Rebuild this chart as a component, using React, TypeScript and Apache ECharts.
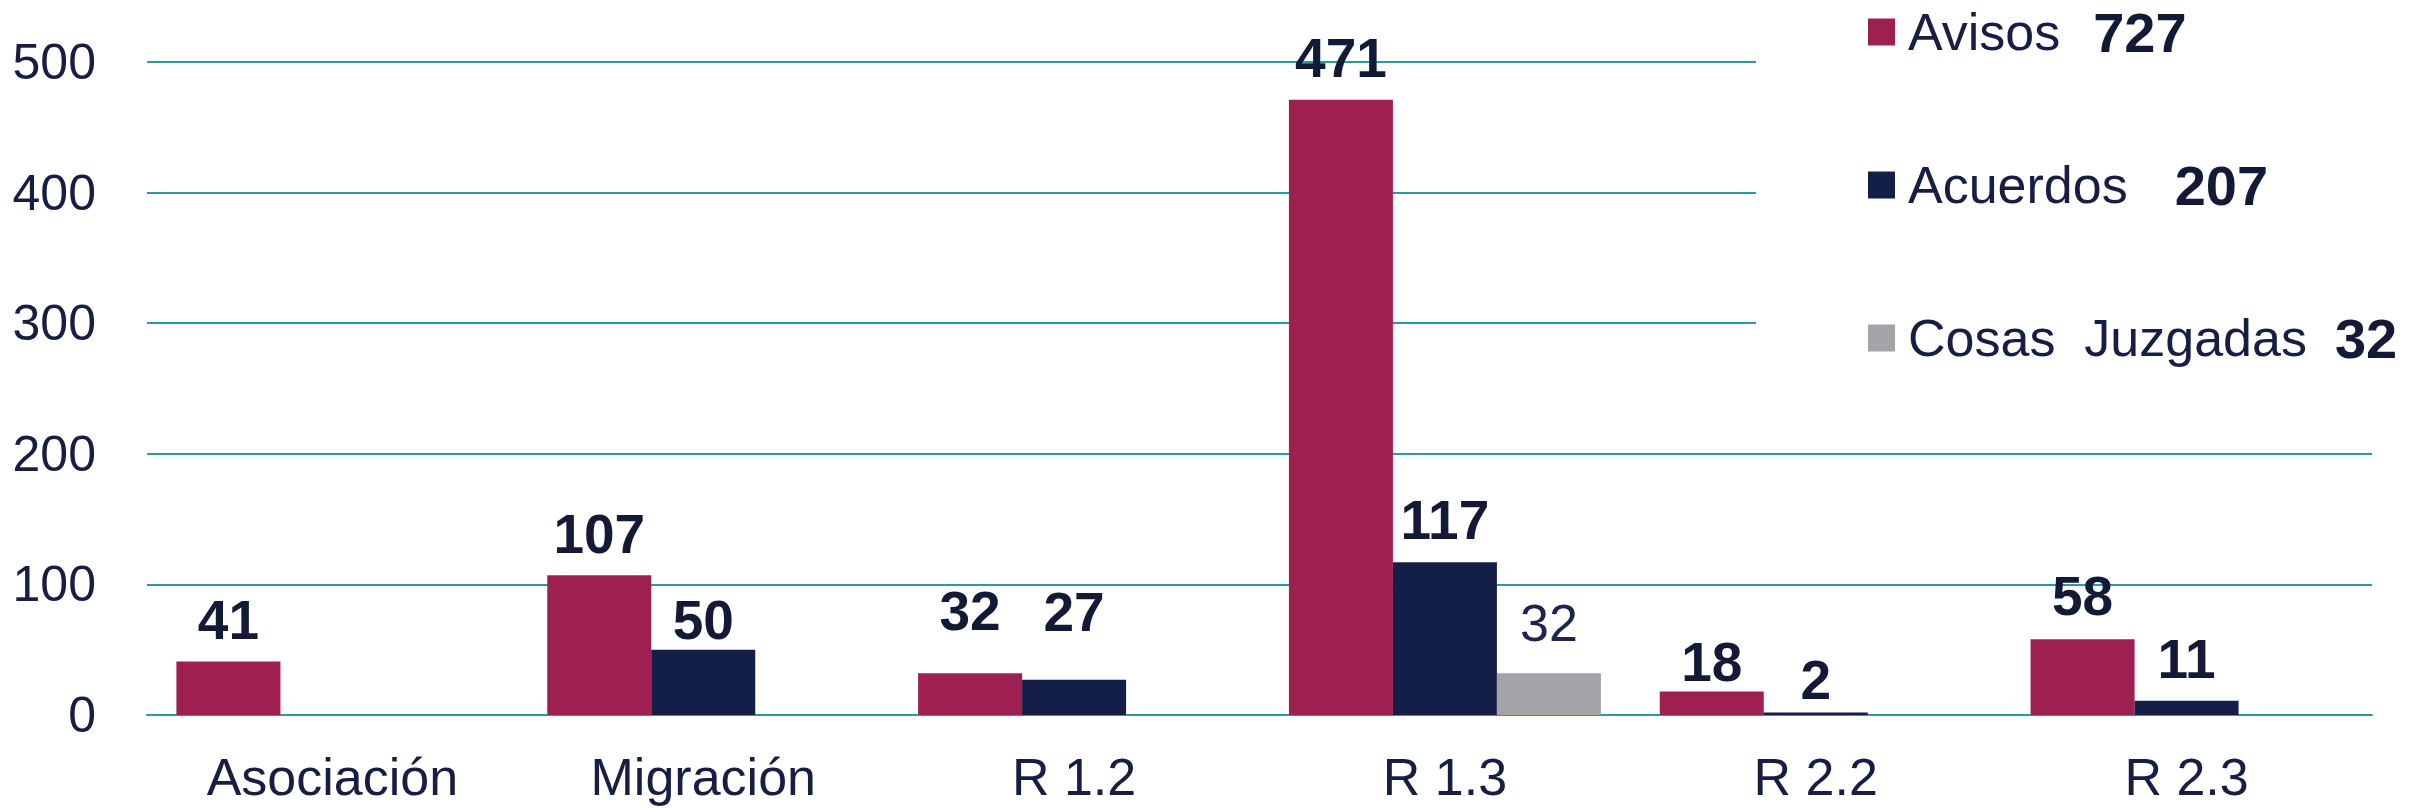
import React, { useEffect, useRef } from "react";
import * as echarts from "echarts";

const categories = ["Asociación", "Migración", "R 1.2", "R 1.3", "R 2.2", "R 2.3"];
const seriesNames = ["Avisos", "Acuerdos", "Cosas  Juzgadas"];
const avisos = [41, 107, 32, 471, 18, 58];
const acuerdos = [null, 50, 27, 117, 2, 11];
const cosasJuzgadas = [null, null, null, 32, null, null];
const yTicks = { min: 0, max: 500, interval: 100 };

// label vertical nudges (style only, px)
const nudgeAvisos = [0, 0, -21, 0, 12, -2];
const nudgeAcuerdos = [0, 12, -26, -1, 9, 0];
const nudgeCosas = [0, 0, 0, -10, 0, 0];

const sum = (arr: (number | null)[]) => arr.reduce((a: number, v) => a + (v ?? 0), 0);

const withNudge = (vals: (number | null)[], nudges: number[]) =>
  vals.map((v, i) => (v == null ? null : { value: v, label: { offset: [0, nudges[i]] } }));

export default function App() {
  const ref = useRef<HTMLDivElement>(null);
  useEffect(() => {
    if (!ref.current) return;
    const chart = echarts.init(ref.current, null, { renderer: "svg" });
    const font = "'Liberation Sans', Arial, sans-serif";
    const navy = "#161E42";
    const teal = "#2A9D9B";
    const totals: Record<string, number> = {
      [seriesNames[0]]: sum(avisos),
      [seriesNames[1]]: sum(acuerdos),
      [seriesNames[2]]: sum(cosasJuzgadas),
    };
    const gapStyle: Record<string, string> = {
      [seriesNames[0]]: "b0",
      [seriesNames[1]]: "b1",
      [seriesNames[2]]: "b2",
    };
    const boldRich = (pad: number) => ({
      fontSize: 56,
      fontWeight: 900,
      fontFamily: font,
      color: "#131A36",
      lineHeight: 56,
      padding: [0, 0, 0, pad],
    });
    const labelCommon = {
      show: true,
      position: "top" as const,
      distance: 14,
      fontSize: 55,
      fontWeight: "bold" as const,
      fontFamily: font,
      color: "#131A36",
    };
    chart.setOption({
      animation: false,
      grid: { left: 147, right: 48, top: 62, bottom: 93, containLabel: false },
      legend: {
        orient: "vertical",
        left: 1756,
        top: 0,
        padding: [4, 10, 24, 112],
        backgroundColor: "#ffffff",
        itemWidth: 27,
        itemHeight: 27,
        itemGap: 97,
        icon: "rect",
        data: seriesNames,
        formatter: (name: string) => `{t|${name}}{${gapStyle[name]}|${totals[name]}}`,
        textStyle: {
          padding: [0, 0, 0, 0],
          rich: {
            t: { fontSize: 52, fontFamily: font, color: navy, lineHeight: 56, padding: [0, 0, 0, 8] },
            b0: boldRich(33),
            b1: boldRich(47),
            b2: boldRich(28),
          },
        },
      },
      xAxis: {
        type: "category",
        data: categories,
        axisLine: { show: true, lineStyle: { color: teal, width: 2 } },
        axisTick: { show: false },
        axisLabel: { fontSize: 52, fontFamily: font, color: navy, margin: 36 },
      },
      yAxis: {
        type: "value",
        min: yTicks.min,
        max: yTicks.max,
        interval: yTicks.interval,
        axisLine: { show: false },
        axisTick: { show: false },
        axisLabel: { fontSize: 50, fontFamily: font, color: navy, margin: 51 },
        splitLine: { show: true, lineStyle: { color: teal, width: 2 } },
      },
      series: [
        {
          name: seriesNames[0],
          type: "bar",
          data: withNudge(avisos, nudgeAvisos),
          barWidth: 104,
          barGap: "0%",
          itemStyle: { color: "#9E2050" },
          label: labelCommon,
        },
        {
          name: seriesNames[1],
          type: "bar",
          data: withNudge(acuerdos, nudgeAcuerdos),
          barWidth: 104,
          barGap: "0%",
          itemStyle: { color: "#131F47" },
          label: labelCommon,
        },
        {
          name: seriesNames[2],
          type: "bar",
          data: withNudge(cosasJuzgadas, nudgeCosas),
          barWidth: 104,
          barGap: "0%",
          itemStyle: { color: "#A3A3A8" },
          label: { ...labelCommon, fontSize: 52, fontWeight: "normal", color: "#1B2550" },
        },
      ],
    });
    return () => chart.dispose();
  }, []);
  return (
    <div
      ref={ref}
      style={{ position: "fixed", left: 0, top: 0, width: 2420, height: 808, background: "#fff" }}
    />
  );
}
